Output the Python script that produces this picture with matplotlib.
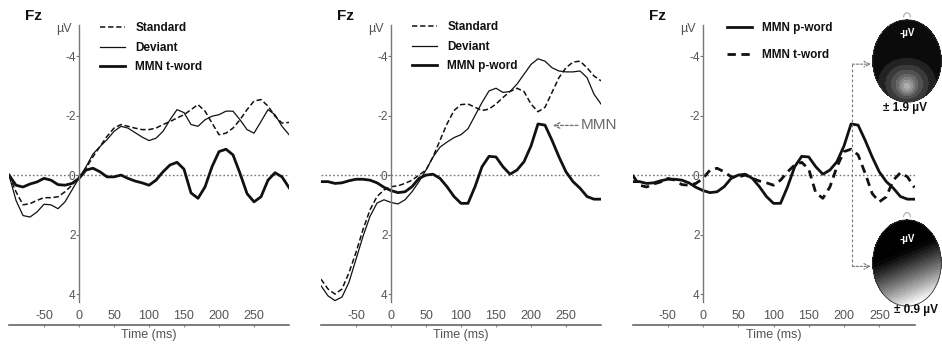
import numpy as np
import matplotlib
matplotlib.use("Agg")
import matplotlib.pyplot as plt
from matplotlib.patches import Ellipse, Arc

plt.rcParams['font.family'] = ['Liberation Sans', 'DejaVu Sans']

# ---------------- data ----------------
time_ms = list(range(-100, 301, 10))

p1_standard = [0, 0.56, 1.0, 0.96, 0.85, 0.76, 0.76, 0.73, 0.56, 0.34,
               0.06, -0.23, -0.62, -0.96, -1.3, -1.58, -1.7, -1.64, -1.58, -1.53,
               -1.53, -1.58, -1.7, -1.8, -1.92, -2.03, -2.2, -2.37, -2.15, -1.75,
               -1.36, -1.41, -1.58, -1.86, -2.2, -2.49, -2.54, -2.32, -1.98, -1.75,
               -1.77]
p1_deviant = [0, 0.85, 1.36, 1.41, 1.24, 0.98, 1.0, 1.13, 0.9, 0.5,
              0.1, -0.28, -0.71, -0.96, -1.19, -1.47, -1.64, -1.58, -1.43, -1.28,
              -1.16, -1.24, -1.47, -1.86, -2.2, -2.1, -1.7, -1.64, -1.86, -1.98,
              -2.03, -2.15, -2.15, -1.86, -1.53, -1.41, -1.8, -2.2, -2.03, -1.64,
              -1.36]
mmn_tword = [0, 0.34, 0.4, 0.3, 0.23, 0.11, 0.17, 0.32, 0.34, 0.28,
             0.11, -0.17, -0.23, -0.11, 0.06, 0.06, 0, 0.11, 0.2, 0.26,
             0.34, 0.17, -0.11, -0.34, -0.43, -0.2, 0.6, 0.78, 0.4, -0.28,
             -0.79, -0.87, -0.68, -0.06, 0.62, 0.9, 0.73, 0.17, -0.08, 0.06,
             0.42]

p2_standard = [3.5, 3.83, 4.0, 3.83, 3.28, 2.6, 1.83, 1.17, 0.72, 0.5,
               0.39, 0.36, 0.28, 0.17, 0, -0.17, -0.61, -1.17, -1.72, -2.17,
               -2.37, -2.39, -2.28, -2.17, -2.22, -2.39, -2.61, -2.81, -2.92, -2.81,
               -2.39, -2.13, -2.28, -2.78, -3.28, -3.61, -3.8, -3.83, -3.61, -3.33,
               -3.17]
p2_deviant = [3.72, 4.06, 4.22, 4.1, 3.6, 2.83, 2.06, 1.39, 0.94, 0.83,
              0.92, 0.97, 0.83, 0.56, 0.22, -0.17, -0.61, -0.94, -1.11, -1.26,
              -1.36, -1.56, -2.0, -2.44, -2.83, -2.92, -2.78, -2.81, -3.06, -3.39,
              -3.72, -3.91, -3.83, -3.61, -3.5, -3.47, -3.47, -3.5, -3.28, -2.72,
              -2.39]
mmn_pword = [0.22, 0.22, 0.28, 0.26, 0.19, 0.14, 0.14, 0.17, 0.26, 0.41,
             0.52, 0.59, 0.56, 0.39, 0.11, 0, -0.03, 0.11, 0.39, 0.72,
             0.95, 0.95, 0.39, -0.28, -0.63, -0.61, -0.28, -0.03, -0.17, -0.45,
             -0.98, -1.72, -1.68, -1.17, -0.61, -0.11, 0.22, 0.44, 0.72, 0.81,
             0.81]

x_ticks = [-50, 0, 50, 100, 150, 200, 250]
x_tick_labels = ['-50', '0', '50', '100', '150', '200', '250']
y_ticks = [-4, -2, 0, 2, 4]
y_tick_labels = ['-4', '-2', '0', '2', '4']
peak_ms = 212

# ---------------- figure ----------------
W, H = 942, 346
fig = plt.figure(figsize=(W / 100, H / 100), dpi=100)
fig.patch.set_facecolor('white')

def px_axes(x0, x1, ytop, ybot):
    return fig.add_axes([x0 / W, (H - ybot) / H, (x1 - x0) / W, (ybot - ytop) / H])

TICKC = '#555555'
AXC = '#777777'
INK = '#111111'

def setup_panel(ax):
    ax.set_xlim(-100, 300)
    ax.set_ylim(5.04, -5.08)
    ax.patch.set_alpha(0)
    for s in ('top', 'right'):
        ax.spines[s].set_visible(False)
    ax.spines['left'].set_position(('data', 0))
    ax.spines['left'].set_bounds(-5.05, 4.25)
    ax.spines['left'].set_color(AXC)
    ax.spines['left'].set_linewidth(1.0)
    ax.spines['bottom'].set_color('#666666')
    ax.spines['bottom'].set_linewidth(1.2)
    ax.set_yticks(y_ticks)
    ax.set_yticklabels(y_tick_labels)
    ax.set_xticks(x_ticks)
    ax.set_xticklabels(x_tick_labels)
    ax.tick_params(axis='y', length=2, width=0.8, color=AXC, pad=0.5,
                   labelsize=8.5, labelcolor=TICKC)
    ax.tick_params(axis='x', length=1.5, width=0.8, color='#888888', direction='out',
                   pad=-12.5, labelsize=9, labelcolor=TICKC)
    ax.axhline(0, color='#777777', lw=1.0, ls=(0, (1.2, 1.6)), zorder=1)
    ax.set_xlabel('Time (ms)', fontsize=9, color=TICKC)
    ax.xaxis.set_label_coords(0.5, -0.012)
    ax.annotate('µV', xy=(0, -4.9), xytext=(-5, 0), textcoords='offset points',
                ha='right', va='center', fontsize=9, color=TICKC)
    ax.text(-77, -5.35, 'Fz', fontsize=11, fontweight='bold', color=INK,
            ha='left', va='center', clip_on=False)

leg_kw = dict(frameon=False, prop={'weight': 'bold', 'size': 8.5}, handlelength=2.1,
              handletextpad=0.9, borderpad=0, borderaxespad=0, labelcolor=INK)

# Panel 1
ax1 = px_axes(9, 289, 24, 325)
setup_panel(ax1)
ax1.plot(time_ms, p1_standard, color=INK, lw=1.1, ls=(0, (3.5, 1.8)), label='Standard')
ax1.plot(time_ms, p1_deviant, color=INK, lw=0.9, label='Deviant')
ax1.plot(time_ms, mmn_tword, color=INK, lw=2.0, label='MMN t-word')
ax1.legend(loc='upper left', bbox_to_anchor=((100 - 9) / 280, (325 - 22) / 301),
           labelspacing=0.65, **leg_kw)

# Panel 2
ax2 = px_axes(321, 601, 24, 325)
setup_panel(ax2)
ax2.plot(time_ms, p2_standard, color=INK, lw=1.1, ls=(0, (3.5, 1.8)), label='Standard')
ax2.plot(time_ms, p2_deviant, color=INK, lw=0.9, label='Deviant')
ax2.plot(time_ms, mmn_pword, color=INK, lw=2.0, label='MMN p-word')
ax2.legend(loc='upper left', bbox_to_anchor=((412 - 321) / 280, (325 - 21) / 301),
           labelspacing=0.65, **leg_kw)
ax2.annotate('', xy=(231, -1.67), xytext=(267, -1.67),
             arrowprops=dict(arrowstyle='->', color='#777777', lw=1.0,
                             ls=(0, (2, 1.5)), shrinkA=0, shrinkB=0))
ax2.text(271, -1.67, 'MMN', fontsize=11, color='#6a6a6a', ha='left', va='center',
         clip_on=False)

# Panel 3
ax3 = px_axes(632.5, 914.5, 24, 325)
setup_panel(ax3)
ax3.plot(time_ms, mmn_pword, color=INK, lw=2.0, label='MMN p-word')
ax3.plot(time_ms, mmn_tword, color=INK, lw=2.0, ls=(0, (3, 2)), label='MMN t-word')
ax3.legend(loc='upper left', bbox_to_anchor=((727 - 632.5) / 282, (325 - 22) / 301),
           labelspacing=1.3, **leg_kw)

# connectors to topographic maps
v_up, v_dn = -3.73, 3.07
ax3.plot([peak_ms, peak_ms], [v_up, v_dn], color='#777777', lw=0.8,
         ls=(0, (2.5, 2)), clip_on=False)
for vv in (v_up, v_dn):
    ax3.annotate('', xy=(238, vv), xytext=(peak_ms, vv), annotation_clip=False,
                 arrowprops=dict(arrowstyle='->', color='#777777', lw=0.8,
                                 ls=(0, (2, 1.5)), shrinkA=0, shrinkB=0))

# ---------------- topographic maps (decorative) ----------------
g = np.linspace(-1, 1, 241)
X, Y = np.meshgrid(g, g)
R = np.sqrt(X ** 2 + Y ** 2)

def head(x0, x1, ytop, ybot, field, label_y, nlev):
    hax = px_axes(x0, x1, ytop, ybot)
    hax.set_xlim(-1.02, 1.02)
    hax.set_ylim(-1.02, 1.02)
    hax.axis('off')
    F = np.ma.masked_where(R > 1, field)
    hax.contourf(X, Y, F, levels=np.linspace(0, 1, nlev), cmap='gray', vmin=0, vmax=1,
                 extend='both')
    hax.add_patch(Ellipse((0, 0), 2, 2, fill=False, ec='#333333', lw=0.6))
    hax.add_patch(Arc((0, 1.06), 0.2, 0.22, theta1=0, theta2=180, ec='#aaaaaa',
                      lw=0.8, clip_on=False))
    hax.text(0.0, label_y, '-µV', color='white', fontsize=7, fontweight='bold',
             ha='center', va='center')
    return hax

f_up = (0.25 * np.exp(-(X ** 2 / 0.04 + (Y + 0.62) ** 2 / 0.035))
        + 0.3 * np.exp(-(X ** 2 / 0.4 + (Y + 0.6) ** 2 / 0.22))
        + 0.14 * np.exp(-((Y + 0.45) ** 2 / 0.25)) * (0.6 + 0.4 * np.cos(3 * X)))
head(872, 942, 19, 103, f_up, 0.68, 12)
fig.text(905 / W, 1 - 108 / H, '± 1.9 µV', fontsize=8.5, fontweight='bold',
         color=INK, ha='center', va='center')

t_lin = -0.75 * Y + 0.25 * X + 0.22
f_dn = np.clip(t_lin, 0, None) ** 1.15
head(872, 942, 219, 307, f_dn, 0.55, 22)
fig.text(916 / W, 1 - 310 / H, '± 0.9 µV', fontsize=8.5, fontweight='bold',
         color=INK, ha='center', va='center')

fig.savefig('out.png', dpi=100, facecolor='white')
